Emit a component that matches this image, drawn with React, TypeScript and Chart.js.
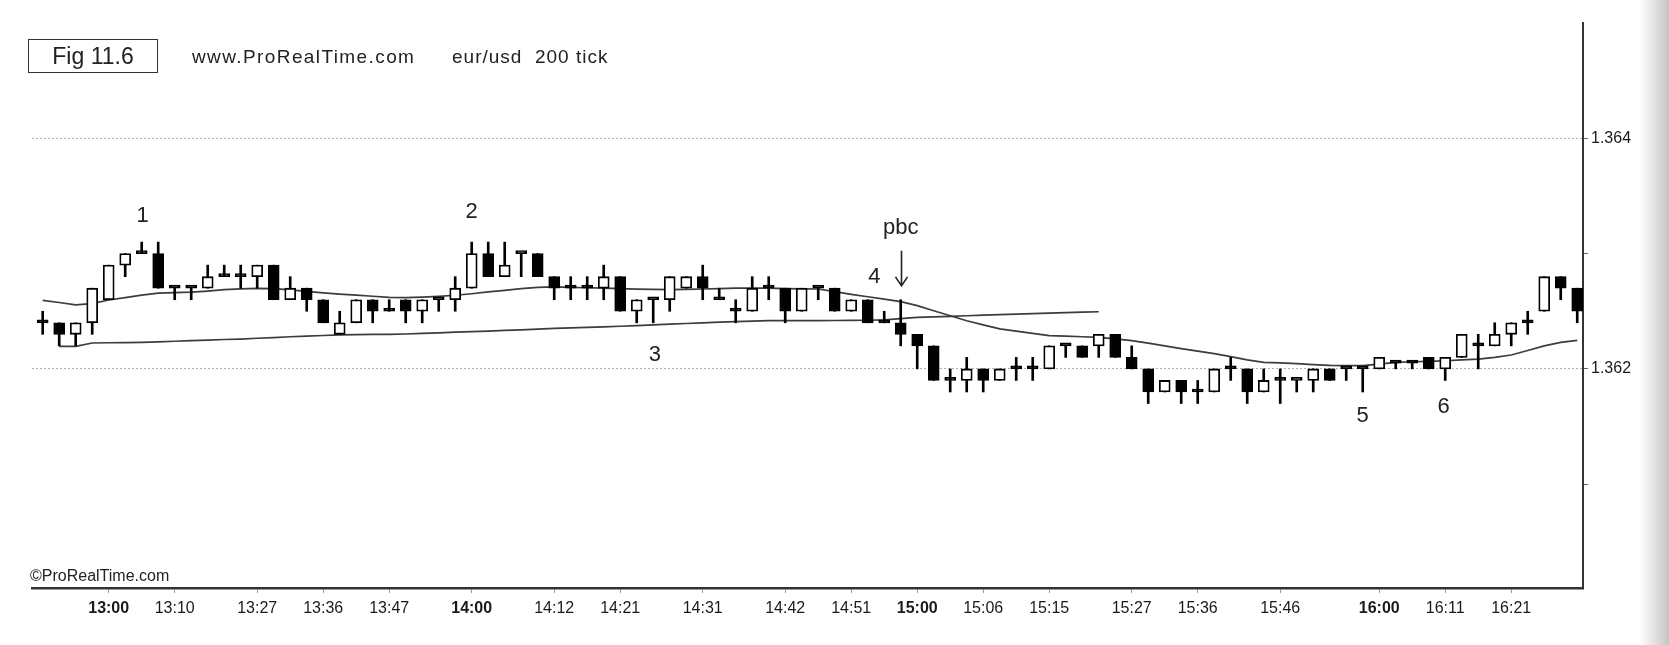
import React, { useEffect, useRef } from 'react';
import { Chart, registerables } from 'chart.js';

Chart.register(...registerables);

// ---- Data (EUR/USD 200 tick candles) ----
const OPEN = [
  1.3624, 1.3624, 1.3623, 1.3624, 1.3626, 1.3629, 1.3630, 1.3630, 1.3627, 1.3627,
  1.3627, 1.3628, 1.3628, 1.3628, 1.3629, 1.3626, 1.3627, 1.3626, 1.3623, 1.3624,
  1.3626, 1.3625, 1.3626, 1.3625, 1.3626, 1.3626, 1.3627, 1.3630, 1.3628, 1.3630,
  1.3630, 1.3628, 1.3627, 1.3627, 1.3627, 1.3628, 1.3625, 1.3626, 1.3626, 1.3627,
  1.3628, 1.3626, 1.3625, 1.3625, 1.3627, 1.3627, 1.3625, 1.3627, 1.3627, 1.3625,
  1.3626, 1.3624, 1.3624, 1.3623, 1.3622, 1.3619, 1.3619, 1.3620, 1.3619, 1.3620,
  1.3620, 1.3620, 1.3622, 1.3622, 1.3622, 1.3623, 1.3621, 1.3620, 1.3618, 1.3619,
  1.3618, 1.3618, 1.3620, 1.3620, 1.3618, 1.3619, 1.3619, 1.3619, 1.3620, 1.3620,
  1.3620, 1.3620, 1.36205, 1.36205, 1.3621, 1.3620, 1.3621, 1.3622, 1.3622, 1.3623,
  1.3624, 1.3625, 1.3628, 1.3627,
];
const HIGH = [
  1.3625, 1.3624, 1.3624, 1.3627, 1.3629, 1.3630, 1.3631, 1.3631, 1.3627, 1.3627,
  1.3629, 1.3629, 1.3629, 1.3629, 1.3629, 1.3628, 1.3627, 1.3626, 1.3625, 1.3626,
  1.3626, 1.3626, 1.3626, 1.3626, 1.3626, 1.3628, 1.3631, 1.3631, 1.3631, 1.3630,
  1.3630, 1.3628, 1.3628, 1.3628, 1.3629, 1.3628, 1.3626, 1.3626, 1.3628, 1.3628,
  1.3629, 1.3627, 1.3626, 1.3628, 1.3628, 1.3627, 1.3627, 1.3627, 1.3627, 1.3626,
  1.3626, 1.3625, 1.3626, 1.3623, 1.3622, 1.3620, 1.3621, 1.3620, 1.3620, 1.3621,
  1.3621, 1.3622, 1.3622, 1.3622, 1.3623, 1.3623, 1.3622, 1.3620, 1.3619, 1.3619,
  1.3619, 1.3620, 1.3621, 1.3620, 1.3620, 1.3620, 1.3619, 1.3620, 1.3620, 1.3620,
  1.3620, 1.3621, 1.36205, 1.36205, 1.3621, 1.3621, 1.3623, 1.3623, 1.3624, 1.3624,
  1.3625, 1.3628, 1.3628, 1.3627,
];
const LOW = [
  1.3623, 1.3622, 1.3622, 1.3623, 1.3626, 1.3628, 1.3630, 1.3627, 1.3626, 1.3626,
  1.3627, 1.3628, 1.3627, 1.3627, 1.3626, 1.3626, 1.3625, 1.3624, 1.3623, 1.3624,
  1.3624, 1.3625, 1.3624, 1.3624, 1.3625, 1.3625, 1.3627, 1.3628, 1.3628, 1.3628,
  1.3628, 1.3626, 1.3626, 1.3626, 1.3626, 1.3625, 1.3624, 1.3624, 1.3625, 1.3627,
  1.3626, 1.3626, 1.3624, 1.3625, 1.3626, 1.3624, 1.3625, 1.3626, 1.3625, 1.3625,
  1.3624, 1.3624, 1.3622, 1.3620, 1.3619, 1.3618, 1.3618, 1.3618, 1.3619, 1.3619,
  1.3619, 1.3620, 1.3621, 1.3621, 1.3621, 1.3621, 1.3620, 1.3617, 1.3618, 1.3617,
  1.3617, 1.3618, 1.3619, 1.3617, 1.3618, 1.3617, 1.3618, 1.3618, 1.3619, 1.3619,
  1.3618, 1.3620, 1.3620, 1.3620, 1.3620, 1.3619, 1.3621, 1.3620, 1.3622, 1.3622,
  1.3623, 1.3625, 1.3626, 1.3624,
];
const CLOSE = [
  1.3624, 1.3623, 1.3624, 1.3627, 1.3629, 1.3630, 1.3630, 1.3627, 1.3627, 1.3627,
  1.3628, 1.3628, 1.3628, 1.3629, 1.3626, 1.3627, 1.3626, 1.3624, 1.3624, 1.3626,
  1.3625, 1.3625, 1.3625, 1.3626, 1.3626, 1.3627, 1.3630, 1.3628, 1.3629, 1.3630,
  1.3628, 1.3627, 1.3627, 1.3627, 1.3628, 1.3625, 1.3626, 1.3626, 1.3628, 1.3628,
  1.3627, 1.3626, 1.3625, 1.3627, 1.3627, 1.3625, 1.3627, 1.3627, 1.3625, 1.3626,
  1.3624, 1.3624, 1.3623, 1.3622, 1.3619, 1.3619, 1.3620, 1.3619, 1.3620, 1.3620,
  1.3620, 1.3622, 1.3622, 1.3621, 1.3623, 1.3621, 1.3620, 1.3618, 1.3619, 1.3618,
  1.3618, 1.3620, 1.3620, 1.3618, 1.3619, 1.3619, 1.3619, 1.3620, 1.3619, 1.3620,
  1.3620, 1.3621, 1.36205, 1.36205, 1.3620, 1.3621, 1.3623, 1.3622, 1.3623, 1.3624,
  1.3624, 1.3628, 1.3627, 1.3625,
];

// fast moving average (curved line)
const MA_FAST = [
  1.362595, 1.362576, 1.362556, 1.362566, 1.362598, 1.362619, 1.36264, 1.362657, 1.362662, 1.362666,
  1.362675, 1.362687, 1.362695, 1.362699, 1.362696, 1.362685, 1.362672, 1.362659, 1.362649, 1.36264,
  1.36263, 1.362621, 1.362618, 1.362622, 1.362629, 1.362639, 1.362652, 1.362668, 1.362682, 1.362696,
  1.362708, 1.362712, 1.362708, 1.362704, 1.3627, 1.362696, 1.362692, 1.362689, 1.362688, 1.36269,
  1.362693, 1.362696, 1.3627, 1.3627, 1.362701, 1.362697, 1.362694, 1.362693, 1.362671, 1.362647,
  1.362626, 1.362605, 1.362584, 1.362549, 1.362504, 1.362461, 1.362418, 1.362382, 1.362347, 1.362327,
  1.362308, 1.362289, 1.362284, 1.362279, 1.362274, 1.36226, 1.362246, 1.362223, 1.3622, 1.362176,
  1.362154, 1.362132, 1.362106, 1.362079, 1.362057, 1.362052, 1.362046, 1.362038, 1.36203, 1.362029,
  1.362029, 1.362042, 1.362056, 1.362062, 1.362066, 1.362071, 1.362078, 1.362085, 1.3621, 1.362121,
  1.36216, 1.3622, 1.36223, 1.362248,
];
// slow moving average (flat line, stops at bar 65)
const MA_SLOW = [
  null, 1.362195, 1.362195, 1.362225, 1.362227, 1.362228, 1.36223, 1.362235, 1.36224, 1.362245,
  1.36225, 1.362255, 1.362259, 1.362266, 1.362272, 1.362279, 1.362285, 1.36229, 1.362296, 1.362298,
  1.362299, 1.3623, 1.362303, 1.362308, 1.362313, 1.362319, 1.362324, 1.362328, 1.362334, 1.362339,
  1.362345, 1.362351, 1.362356, 1.362361, 1.362365, 1.36237, 1.362376, 1.362382, 1.362388, 1.362394,
  1.3624, 1.362406, 1.36241, 1.362414, 1.362418, 1.362418, 1.362418, 1.362418, 1.36242, 1.362421,
  1.362422, 1.362425, 1.362436, 1.362447, 1.362452, 1.362456, 1.362461, 1.362466, 1.36247, 1.362475,
  1.36248, 1.362484, 1.362489, 1.362493, 1.362496,
];

// x-axis time labels (bar number -> label)
const TICK_BARS = [5, 9, 14, 18, 22, 27, 32, 36, 41, 46, 50, 54, 58, 62, 67, 71, 76, 82, 86, 90];
const TICK_LABELS = [
  '13:00', '13:10', '13:27', '13:36', '13:47', '14:00', '14:12', '14:21', '14:31', '14:42',
  '14:51', '15:00', '15:06', '15:15', '15:27', '15:36', '15:46', '16:00', '16:11', '16:21',
];
const Y_TICKS = [1.361, 1.362, 1.363, 1.364];
const Y_LABELED = [1.362, 1.364];

// chart annotations (bar number, price)
const NOTE_TEXT = ['1', '2', '3', '4', 'pbc', '5', '6'];
const NOTE_BAR = [7.05, 27, 38.1, 51.4, 53, 81, 85.9];
const NOTE_PRICE = [1.363327, 1.36336, 1.36212, 1.3628, 1.36322, 1.36159, 1.36167];
const ARROW_BAR = 53;
const ARROW_FROM = 1.363024;
const ARROW_TO = 1.36272;

const FONT = '"Liberation Sans", Arial, Helvetica, sans-serif';

const notesPlugin = {
  id: 'notes',
  afterDatasetsDraw(chart: any) {
    const { ctx, scales } = chart;
    const xs = scales.x;
    const ys = scales.y;
    ctx.save();
    ctx.fillStyle = '#222';
    ctx.font = `22px ${FONT}`;
    ctx.textAlign = 'center';
    ctx.textBaseline = 'middle';
    NOTE_TEXT.forEach((t, i) => {
      ctx.fillText(t, xs.getPixelForValue(NOTE_BAR[i]), ys.getPixelForValue(NOTE_PRICE[i]));
    });
    const ax = Math.round(xs.getPixelForValue(ARROW_BAR)) + 0.5;
    const ay1 = ys.getPixelForValue(ARROW_FROM);
    const ay2 = ys.getPixelForValue(ARROW_TO);
    ctx.strokeStyle = '#222';
    ctx.lineWidth = 1.6;
    ctx.beginPath();
    ctx.moveTo(ax, ay1);
    ctx.lineTo(ax, ay2);
    ctx.moveTo(ax - 6, ay2 - 9);
    ctx.lineTo(ax, ay2);
    ctx.lineTo(ax + 6, ay2 - 9);
    ctx.stroke();
    ctx.restore();
  },
};

export default function App() {
  const ref = useRef<HTMLCanvasElement | null>(null);

  useEffect(() => {
    document.body.style.margin = '0';
    const canvas = ref.current;
    if (!canvas) return;

    const bars = OPEN.map((_, i) => i + 1);
    const bodyColors = OPEN.map((o, i) => (CLOSE[i] > o ? '#ffffff' : '#000000'));

    const chart = new Chart(canvas, {
      type: 'bar',
      data: {
        datasets: [
          {
            type: 'bar',
            label: 'body',
            data: bars.map((b, i) => ({ x: b, y: [OPEN[i], CLOSE[i]] })) as any,
            backgroundColor: bodyColors,
            borderColor: '#000000',
            borderWidth: 1.8,
            borderSkipped: false,
            barThickness: 11,
            minBarLength: 3,
            grouped: false,
            order: 0,
          } as any,
          {
            type: 'bar',
            label: 'wick',
            data: bars.map((b, i) => ({ x: b, y: [LOW[i], HIGH[i]] })) as any,
            backgroundColor: '#000000',
            borderWidth: 0,
            barThickness: 2,
            minBarLength: 1,
            grouped: false,
            order: 1,
          } as any,
          {
            type: 'line',
            label: 'ma fast',
            data: MA_FAST.map((v, i) => ({ x: i + 1, y: v })),
            borderColor: '#3c3c3c',
            borderWidth: 1.7,
            pointRadius: 0,
            tension: 0,
            order: 2,
          } as any,
          {
            type: 'line',
            label: 'ma slow',
            data: MA_SLOW.map((v, i) => ({ x: i + 1, y: v })).filter((p) => p.y !== null),
            borderColor: '#3c3c3c',
            borderWidth: 1.7,
            pointRadius: 0,
            tension: 0,
            order: 3,
          } as any,
        ],
      },
      options: {
        responsive: false,
        animation: false,
        layout: { padding: { left: 32, top: 23, right: 0, bottom: 0 } },
        plugins: { legend: { display: false }, tooltip: { enabled: false } },
        scales: {
          x: {
            type: 'linear',
            min: 0.3515,
            max: 94.35,
            offset: false,
            afterFit: (s: any) => { s.height = 57; },
            afterBuildTicks: (s: any) => { s.ticks = TICK_BARS.map((v) => ({ value: v })); },
            grid: { display: true, offset: false, drawOnChartArea: false, drawTicks: true, tickLength: 5, tickColor: '#9a9a9a', color: '#9a9a9a' },
            border: { display: true, color: '#333333', width: 2.5 },
            ticks: {
              autoSkip: false,
              maxRotation: 0,
              padding: 6,
              color: '#1a1a1a',
              callback: (_v: any, i: number) => TICK_LABELS[i],
              font: (c: any) => ({ family: FONT, size: 16, weight: TICK_LABELS[c.index] && TICK_LABELS[c.index].endsWith(':00') ? 'bold' : 'normal' }),
            },
          } as any,
          y: {
            type: 'linear',
            position: 'right',
            min: 1.3601,
            max: 1.3650,
            afterFit: (s: any) => { s.width = 86; },
            afterBuildTicks: (s: any) => { s.ticks = Y_TICKS.map((v) => ({ value: v })); },
            grid: {
              display: true,
              drawOnChartArea: true,
              drawTicks: true,
              tickLength: 5,
              tickColor: '#666666',
              lineWidth: 1,
              color: (c: any) => (c.tick && Y_LABELED.some((v) => Math.abs(v - c.tick.value) < 1e-7) ? '#b0b0b0' : 'rgba(0,0,0,0)'),
            },
            border: { display: true, color: '#333333', width: 2, dash: [2, 2] },
            ticks: {
              padding: 3,
              color: '#1a1a1a',
              font: { family: FONT, size: 16 },
              callback: (v: any) => (Y_LABELED.some((t) => Math.abs(t - v) < 1e-7) ? Number(v).toFixed(3) : ''),
            },
          } as any,
        },
      },
      plugins: [notesPlugin],
    });

    return () => chart.destroy();
  }, []);

  return (
    <div style={{ position: 'relative', width: 1669, height: 645, background: '#ffffff', overflow: 'hidden', fontFamily: FONT }}>
      <canvas ref={ref} width={1669} height={645} style={{ position: 'absolute', left: 0, top: 0 }} />
      <div style={{ position: 'absolute', left: 28, top: 39, width: 130, height: 34, border: '1.5px solid #333', boxSizing: 'border-box', display: 'flex', alignItems: 'center', justifyContent: 'center', fontSize: 23, color: '#222' }}>
        Fig 11.6
      </div>
      <div style={{ position: 'absolute', left: 192, top: 46, fontSize: 19, letterSpacing: 1.4, color: '#222', whiteSpace: 'pre' }}>www.ProRealTime.com</div>
      <div style={{ position: 'absolute', left: 452, top: 46, fontSize: 19, letterSpacing: 1, color: '#222', whiteSpace: 'pre' }}>eur/usd  200 tick</div>
      <div style={{ position: 'absolute', left: 30, top: 567, fontSize: 16, color: '#222', whiteSpace: 'pre' }}>©ProRealTime.com</div>
      <div style={{ position: 'absolute', left: 1640, top: 0, width: 29, height: 645, background: 'linear-gradient(to right, rgba(255,255,255,0), #c4c4c4)' }} />
    </div>
  );
}
